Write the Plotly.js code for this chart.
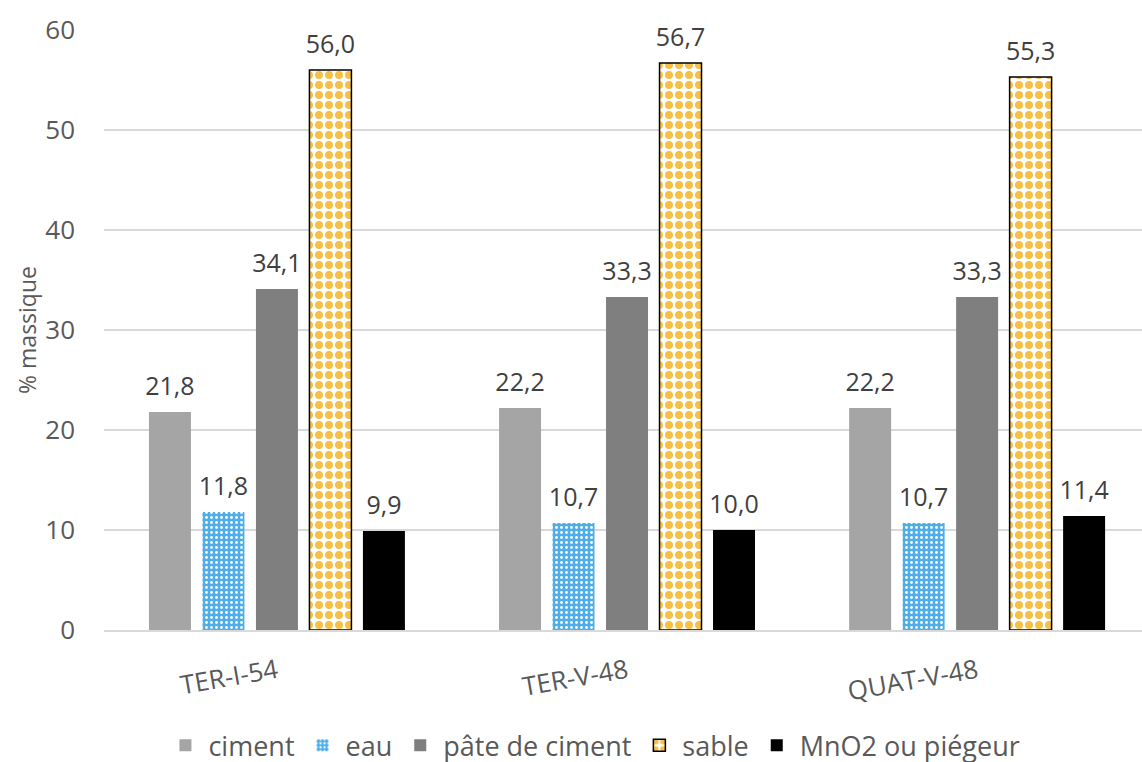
<!DOCTYPE html>
<html><head><meta charset="utf-8">
<script src="https://cdn.plot.ly/plotly-3.0.1.min.js"></script>
<style>body{margin:0;background:#fff;overflow:hidden}#c{width:1142px;height:780px}</style>
</head><body><div id="c"></div>
<script>
const categories = ["TER-I-54", "TER-V-48", "QUAT-V-48"];
const ciment = [21.8, 22.2, 22.2];
const eau = [11.8, 10.7, 10.7];
const pate = [34.1, 33.3, 33.3];
const sable = [56.0, 56.7, 55.3];
const mno2 = [9.9, 10.0, 11.4];
const seriesNames = ["ciment", "eau", "pâte de ciment", "sable", "MnO2 ou piégeur"];

const FONT = "'Open Sans', sans-serif";
const lblFont = {family: FONT, size: 25, color: "#404040"};
const markers = [
  {color: "#A5A5A5"},
  {color: "#4FAEEA", pattern: {shape: ".", fgcolor: "#FFFFFF", bgcolor: "#4FAEEA", size: 5, solidity: 0.25}},
  {color: "#7F7F7F"},
  {color: "#F6BF45", line: {color: "#000000", width: 1.5}, pattern: {shape: ".", fgcolor: "#F6BF45", bgcolor: "#FFFFFF", size: 10, solidity: 0.5}},
  {color: "#000000"}
];
const values = [ciment, eau, pate, sable, mno2];
const data = [];
values.forEach((y, i) => {
  data.push({type: "bar", name: seriesNames[i], x: categories, y: y, marker: markers[i],
    offsetgroup: "g" + i, hoverinfo: "skip"});
});
values.forEach((y, i) => {
  data.push({type: "scatter", mode: "markers+text", x: categories, y: y, offsetgroup: "g" + i,
    marker: {size: 15, color: "rgba(0,0,0,0)"}, text: y.map(v => v.toFixed(1).replace(".", ",")),
    textposition: "top center", textfont: lblFont, showlegend: false, cliponaxis: false, hoverinfo: "skip"});
});
const layout = {
  width: 1142, height: 780,
  margin: {l: 104, r: 0, t: 30, b: 150},
  paper_bgcolor: "#FFFFFF", plot_bgcolor: "#FFFFFF",
  separators: ", ",
  font: {family: FONT, color: "#595959"},
  barmode: "group", bargap: 0.236, bargroupgap: 0.215,
  scattermode: "group", scattergap: 0.236,
  showlegend: true,
  legend: {orientation: "h", x: 0.472, xanchor: "center", y: -0.193, yanchor: "middle",
    font: {family: FONT, size: 27, color: "#595959"}, itemwidth: 36, traceorder: "normal"},
  xaxis: {range: [-0.494, 2.471], tickangle: -10, tickfont: {family: FONT, size: 26, color: "#595959"},
    showgrid: false, showline: true, linecolor: "#D9D9D9", linewidth: 1.5, ticks: "", zeroline: false,
    ticklabelstandoff: 15, automargin: false, fixedrange: true},
  yaxis: {range: [0, 60], dtick: 10, tickfont: {family: FONT, size: 26, color: "#595959"},
    gridcolor: "#D9D9D9", gridwidth: 1.5, zeroline: false, showline: false, ticklabelstandoff: 28,
    automargin: false,
    title: {text: "% massique", font: {family: FONT, size: 23, color: "#595959"}, standoff: 2}}
};
Plotly.newPlot("c", data, layout, {displayModeBar: false, staticPlot: true});
</script></body></html>
